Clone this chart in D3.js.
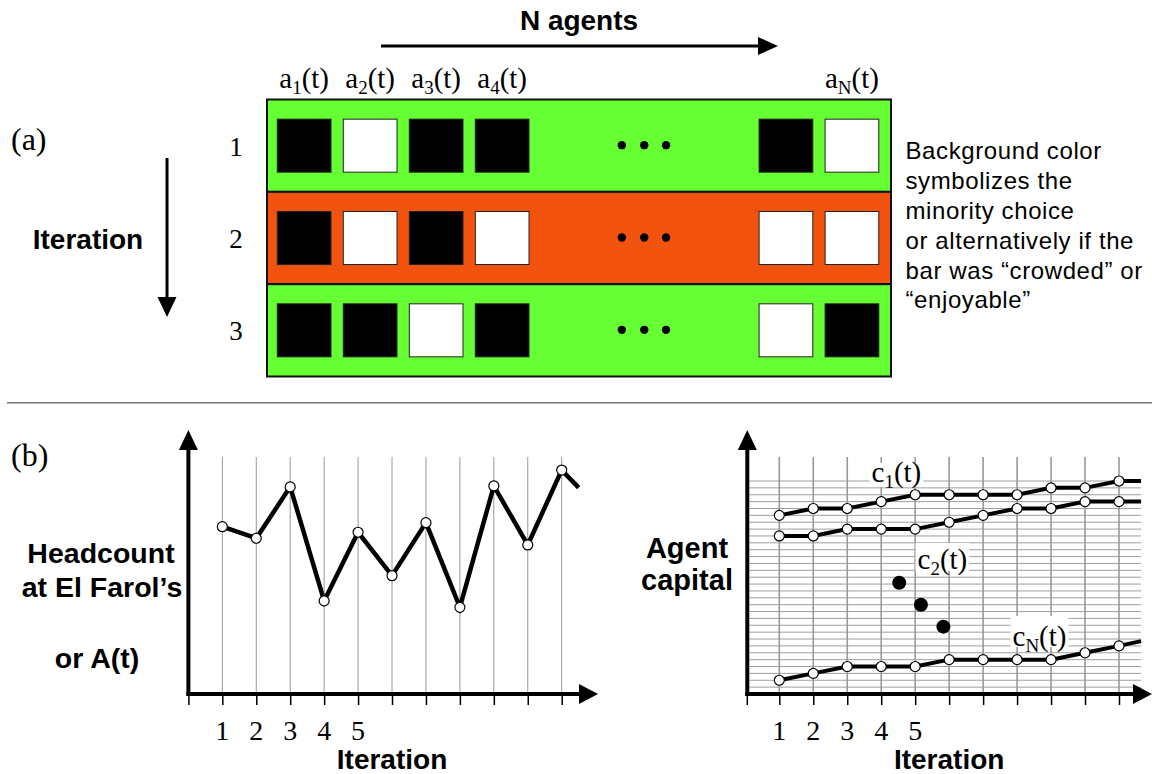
<!DOCTYPE html>
<html><head><meta charset="utf-8">
<script src="https://cdn.jsdelivr.net/npm/d3@7"></script>
<style>html,body{margin:0;padding:0;background:#fff;}svg{display:block;}</style>
</head><body>
<svg id="c" width="1152" height="774"></svg>
<script>
// ---------- DATA ----------
const iterations = [1, 2, 3];
const rowColors = ["green", "orange", "green"];           // minority choice colour per iteration
const agentLabels = ["1", "2", "3", "4", "N-1", "N"];
const agentSlots = [0, 1, 2, 3, 7.3, 8.3];                  // column slot of each agent box
const choices = [                                          // 1 = black, 0 = white
  [1, 0, 1, 1, 1, 0],
  [1, 0, 1, 0, 0, 0],
  [1, 1, 0, 1, 0, 1]
];
const ellipsisSlots = [5.22, 5.56, 5.89];
const shownLabels = ["1", "2", "3", "4", null, "N"];

const noteLines = ["Background color", "symbolizes the", "minority choice",
  "or alternatively if the", "bar was \u201Ccrowded\u201D or", "\u201Cenjoyable\u201D"];

const tickLabels = ["1", "2", "3", "4", "5"];
const attendanceIter = [1, 2, 3, 4, 5, 6, 7, 8, 9, 10, 11, 11.5];
const attendance = [69.7, 64.9, 86.3, 38.8, 67.4, 49.3, 71.4, 36.1, 86.7, 62.1, 93.3, 86];

const capIter = [1, 2, 3, 4, 5, 6, 7, 8, 9, 10, 11, 11.65];
const capital1 = [26, 27, 27, 28, 29, 29, 29, 29, 30, 30, 31, 31];
const capital2 = [23, 23, 24, 24, 24, 25, 26, 27, 27, 28, 28, 28];
const capitalN = [2, 3, 4, 4, 4, 5, 5, 5, 5, 6, 7, 7.7];
const dotsIter = [4.53, 5.17, 5.83];
const dotsVal = [16.2, 13.0, 9.8];

// ---------- SETUP ----------
const svg = d3.select("#c");
const SERIF = "'Liberation Serif','Times New Roman',serif";
const SANS = "'Liberation Sans',Arial,Helvetica,sans-serif";
const colorMap = {green: "#66ff33", orange: "#f25410"};

function subText(g, x, y, base, sub, rest, size, subSize, anchor) {
  const t = g.append("text").attr("x", x).attr("y", y)
    .attr("font-family", SERIF).attr("font-size", size)
    .attr("text-anchor", anchor || "middle").attr("fill", "#000");
  t.append("tspan").text(base);
  t.append("tspan").attr("dy", 6).attr("font-size", subSize).text(sub);
  t.append("tspan").attr("dy", -6).text(rest);
  return t;
}
function arrowHead(g, x, y, dir, len, half) {
  let pts;
  if (dir === "up") pts = [[x, y], [x - half, y + len], [x + half, y + len]];
  else if (dir === "down") pts = [[x, y], [x - half, y - len], [x + half, y - len]];
  else pts = [[x, y], [x - len, y - half], [x - len, y + half]];
  g.append("path").attr("d", "M" + pts.map(p => p.join(",")).join("L") + "Z").attr("fill", "#000");
}

// ---------- PANEL (a) ----------
const ga = svg.append("g");
const slotX = d3.scaleLinear().domain([0, 1]).range([277.3, 343.3]);
const boxW = 53.7, boxH = 53;
const rowY = d3.scaleBand().domain(iterations).range([99.5, 376.5]).padding(0);

ga.selectAll("rect.row").data(iterations).join("rect")
  .attr("x", 267).attr("y", d => rowY(d)).attr("width", 624).attr("height", rowY.bandwidth())
  .attr("fill", (d, i) => colorMap[rowColors[i]]).attr("stroke", "#111").attr("stroke-width", 2);

iterations.forEach((it, r) => {
  ga.selectAll(null).data(choices[r]).join("rect")
    .attr("x", (d, j) => slotX(agentSlots[j]))
    .attr("y", rowY(it) + (rowY.bandwidth() - boxH) / 2)
    .attr("width", boxW).attr("height", boxH)
    .attr("fill", d => d ? "#000" : "#fff").attr("stroke", "#222").attr("stroke-width", 1);
  ga.selectAll(null).data(ellipsisSlots).join("circle")
    .attr("cx", d => slotX(d)).attr("cy", rowY(it) + rowY.bandwidth() / 2 - 0.5).attr("r", 4.2).attr("fill", "#000");
  ga.append("text").attr("x", 236).attr("y", rowY(it) + rowY.bandwidth() / 2 + 10)
    .attr("font-family", SERIF).attr("font-size", 27).attr("text-anchor", "middle").text(it);
});

shownLabels.forEach((l, j) => {
  if (l === null) return;
  subText(ga, slotX(agentSlots[j]) + boxW / 2, 88, "a", l, "(t)", 29, 19);
});

// N agents
ga.append("text").attr("x", 579).attr("y", 30).attr("font-family", SANS).attr("font-weight", "bold")
  .attr("font-size", 28).attr("text-anchor", "middle").text("N agents");
ga.append("line").attr("x1", 381).attr("x2", 760).attr("y1", 46).attr("y2", 46).attr("stroke", "#000").attr("stroke-width", 3);
arrowHead(ga, 778, 46, "right", 20, 9);

// Iteration (vertical)
ga.append("text").attr("x", 88).attr("y", 249).attr("font-family", SANS).attr("font-weight", "bold")
  .attr("font-size", 28).attr("text-anchor", "middle").text("Iteration");
ga.append("line").attr("x1", 167).attr("x2", 167).attr("y1", 158).attr("y2", 300).attr("stroke", "#000").attr("stroke-width", 3);
arrowHead(ga, 167, 317, "down", 20, 9.5);

ga.append("text").attr("x", 11).attr("y", 150).attr("font-family", SERIF).attr("font-size", 32).text("(a)");

// note text
const note = ga.append("text").attr("font-family", SANS).attr("font-size", 24).attr("letter-spacing", 0.6).attr("fill", "#000");
noteLines.forEach((l, i) => note.append("tspan").attr("x", 905.5).attr("y", 159.3 + 29.8 * i).text(l));

// separator
svg.append("line").attr("x1", 7).attr("x2", 1152).attr("y1", 402.7).attr("y2", 402.7).attr("stroke", "#777").attr("stroke-width", 1.5);

// ---------- PANEL (b) left ----------
const gl = svg.append("g");
svg.append("text").attr("x", 11).attr("y", 466).attr("font-family", SERIF).attr("font-size", 32).text("(b)");
const xL = d3.scaleLinear().domain([0, 11]).range([188.4, 561.7]);
const yL = d3.scaleLinear().domain([0, 100]).range([694, 454]);
const iters = d3.range(1, 12);
gl.selectAll("line.grid").data(iters).join("line")
  .attr("x1", d => xL(d)).attr("x2", d => xL(d)).attr("y1", 457).attr("y2", 694)
  .attr("stroke", "#999").attr("stroke-width", 1);
// ticks
gl.append("g").attr("transform", "translate(0,694)")
  .call(d3.axisBottom(xL).tickValues(d3.range(0, 12)).tickSize(11).tickFormat(""))
  .call(g => { g.select(".domain").remove(); g.selectAll("line").attr("stroke", "#000").attr("stroke-width", 1.5); });
gl.append("line").attr("x1", xL(0)).attr("x2", xL(0)).attr("y1", 696).attr("y2", 448).attr("stroke", "#000").attr("stroke-width", 4);
arrowHead(gl, xL(0), 430, "up", 20, 9.5);
gl.append("line").attr("x1", xL(0) - 2).attr("x2", 580).attr("y1", 694).attr("y2", 694).attr("stroke", "#000").attr("stroke-width", 4);
arrowHead(gl, 598, 694, "right", 19, 10);

const lineL = d3.line().x((d, i) => xL(attendanceIter[i])).y(d => yL(d));
gl.append("path").attr("d", lineL(attendance)).attr("fill", "none").attr("stroke", "#000")
  .attr("stroke-width", 4.5).attr("stroke-linejoin", "miter");
gl.selectAll("circle").data(attendance.slice(0, 11)).join("circle")
  .attr("cx", (d, i) => xL(attendanceIter[i])).attr("cy", d => yL(d)).attr("r", 5)
  .attr("fill", "#fff").attr("stroke", "#000").attr("stroke-width", 1.2);

gl.selectAll("text.tick").data(tickLabels).join("text")
  .attr("x", (d, i) => xL(i + 1)).attr("y", 740).attr("font-family", SERIF).attr("font-size", 28)
  .attr("text-anchor", "middle").text(d => d);
gl.append("text").attr("x", xL(6)).attr("y", 769).attr("font-family", SANS).attr("font-weight", "bold")
  .attr("font-size", 28).attr("text-anchor", "middle").text("Iteration");
const ylab = gl.append("text").attr("font-family", SANS).attr("font-weight", "bold").attr("font-size", 28.5).attr("text-anchor", "middle");
ylab.append("tspan").attr("x", 101).attr("y", 563).text("Headcount");
ylab.append("tspan").attr("x", 102).attr("y", 597).text("at El Farol\u2019s");
ylab.append("tspan").attr("x", 97).attr("y", 668).text("or A(t)");

// ---------- PANEL (b) right ----------
const gr = svg.append("g");
const xR = d3.scaleLinear().domain([1, 11]).range([779.3, 1119]);
const yR = d3.scaleLinear().domain([0, 31]).range([694, 481]);
const axisXR = 747.3;
gr.selectAll("line.h").data(d3.range(1, 32)).join("line")
  .attr("x1", axisXR).attr("x2", 1141).attr("y1", d => yR(d)).attr("y2", d => yR(d))
  .attr("stroke", "#9e9e9e").attr("stroke-width", 1);
gr.selectAll("line.v").data(iters).join("line")
  .attr("x1", d => xR(d)).attr("x2", d => xR(d)).attr("y1", 457).attr("y2", 694)
  .attr("stroke", "#999").attr("stroke-width", 1.6);
gr.append("g").attr("transform", "translate(0,694)")
  .call(d3.axisBottom(xR).tickValues(iters).tickSize(11).tickFormat(""))
  .call(g => { g.select(".domain").remove(); g.selectAll("line").attr("stroke", "#000").attr("stroke-width", 1.5); });
gr.append("line").attr("x1", axisXR).attr("x2", axisXR).attr("y1", 694).attr("y2", 705).attr("stroke", "#000").attr("stroke-width", 1.5);
gr.append("line").attr("x1", axisXR).attr("x2", axisXR).attr("y1", 696).attr("y2", 448).attr("stroke", "#000").attr("stroke-width", 4);
arrowHead(gr, axisXR, 430, "up", 20, 9.5);
gr.append("line").attr("x1", axisXR - 2).attr("x2", 1134).attr("y1", 694).attr("y2", 694).attr("stroke", "#000").attr("stroke-width", 4);
arrowHead(gr, 1152, 694, "right", 19, 10);

const lineR = d3.line().x((d, i) => xR(capIter[i])).y(d => yR(d));
[capital1, capital2, capitalN].forEach(s => {
  gr.append("path").attr("d", lineR(s)).attr("fill", "none").attr("stroke", "#000").attr("stroke-width", 4);
  gr.selectAll(null).data(s.slice(0, 11)).join("circle")
    .attr("cx", (d, i) => xR(capIter[i])).attr("cy", d => yR(d)).attr("r", 5)
    .attr("fill", "#fff").attr("stroke", "#000").attr("stroke-width", 1.2);
});
gr.selectAll("circle.dot").data(dotsVal).join("circle")
  .attr("cx", (d, i) => xR(dotsIter[i])).attr("cy", d => yR(d)).attr("r", 7).attr("fill", "#000");

// series labels with white background
[["1", 871.5, 482, 463, 24], ["2", 917.5, 569, 543, 28], ["N", 1012.5, 646, 616, 31]].forEach(([s, x, y, bt, bh]) => {
  const lg = gr.append("g");
  const bg = lg.append("rect").attr("fill", "#fff");
  const t = subText(lg, x, y, "c", s, "(t)", 29, 19, "start");
  const bb = t.node().getBBox();
  bg.attr("x", bb.x - 2).attr("y", bt).attr("width", bb.width + 4).attr("height", bh);
});

gr.selectAll("text.tick").data(tickLabels).join("text")
  .attr("x", (d, i) => xR(i + 1)).attr("y", 740).attr("font-family", SERIF).attr("font-size", 28)
  .attr("text-anchor", "middle").text(d => d);
gr.append("text").attr("x", xR(6)).attr("y", 769).attr("font-family", SANS).attr("font-weight", "bold")
  .attr("font-size", 28).attr("text-anchor", "middle").text("Iteration");
const ylab2 = gr.append("text").attr("font-family", SANS).attr("font-weight", "bold").attr("font-size", 29).attr("text-anchor", "middle");
ylab2.append("tspan").attr("x", 687).attr("y", 558).text("Agent");
ylab2.append("tspan").attr("x", 687).attr("y", 590).text("capital");
</script>
</body></html>
